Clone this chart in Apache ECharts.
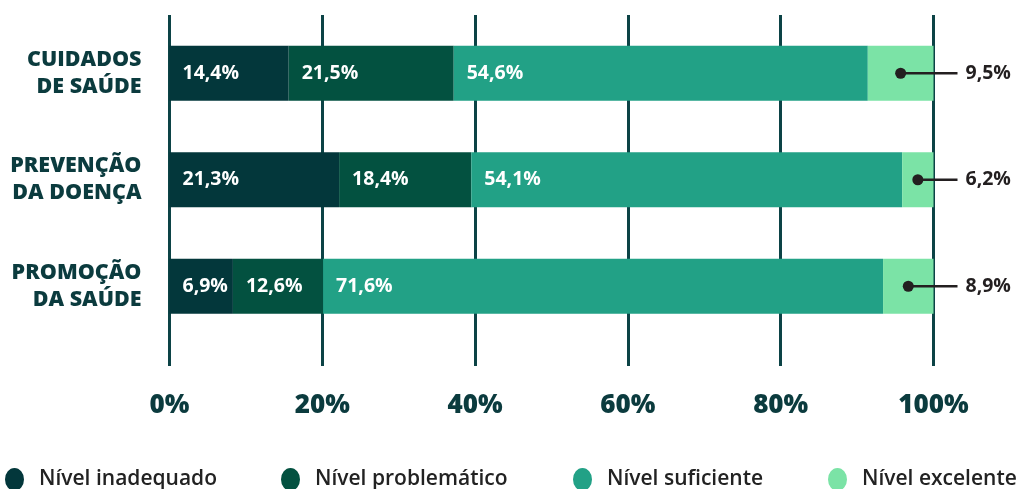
<!DOCTYPE html>
<html>
<head>
<meta charset="utf-8">
<script src="https://cdn.jsdelivr.net/npm/echarts@6/dist/echarts.min.js"></script>
<style>
  html, body { margin: 0; padding: 0; background: #fff; }
  #main { width: 1021px; height: 489px; }
</style>
</head>
<body>
<div id="main"></div>
<script>
// categories, top to bottom
const categories = ['CUIDADOS\nDE SAÚDE', 'PREVENÇÃO\nDA DOENÇA', 'PROMOÇÃO\nDA SAÚDE']
const seriesNames = ['Nível inadequado', 'Nível problemático', 'Nível suficiente', 'Nível excelente']

// bar lengths as drawn in the picture (% of the 0-100 axis)
const inadequado = [15.6, 22.2, 8.3]
const problematico = [21.6, 17.3, 11.8]
const suficiente = [54.2, 56.4, 73.3]
const excelente = [8.6, 4.1, 6.6]

// printed labels
const inadequadoTxt = ['14,4%', '21,3%', '6,9%']
const problematicoTxt = ['21,5%', '18,4%', '12,6%']
const suficienteTxt = ['54,6%', '54,1%', '71,6%']
const excelenteTxt = ['9,5%', '6,2%', '8,9%']

const xTicks = [0, 20, 40, 60, 80, 100]

const colors = ['#03373b', '#035140', '#22a186', '#7be3a6']
const lineColor = '#0c4346'
const textDark = '#0b3b3e'

var chart = echarts.init(document.getElementById('main'))

function barSeries(name, data, txt, color) {
    return {
        name: name,
        type: 'bar',
        stack: 'all',
        xAxisIndex: 0,
        yAxisIndex: 0,
        barWidth: 55,
        data: data,
        itemStyle: { color: color },
        label: {
            show: txt != null,
            position: 'insideLeft',
            distance: 13,
            color: '#fff',
            fontFamily: 'Open Sans',
            fontWeight: 'bold',
            fontSize: 19.5,
            formatter: p => txt ? txt[p.dataIndex] : ''
        },
        emphasis: { disabled: true },
        z: 3
    }
}

// dot + leader line for the "excelente" share
const calloutData = categories.map((c, i) => [
    inadequado[i] + problematico[i] + suficiente[i] + excelente[i] / 2, i, excelenteTxt[i]
])

function legendOne(i, left) {
    return {
        data: [seriesNames[i]],
        left: left,
        top: 463,
        icon: 'path://M10,0 A10,12 0 1,1 10,24 A10,12 0 1,1 10,0 Z',
        itemWidth: 19,
        itemHeight: 23,
        selectedMode: false,
        formatter: '{t|{name}}',
        textStyle: {
            rich: {
                t: {
                    padding: [0, 0, 0, 10],
                    fontFamily: 'Open Sans',
                    fontWeight: 600,
                    fontSize: 21,
                    color: '#222'
                }
            }
        }
    }
}

const option = {
    animation: false,
    color: colors,
    legend: [legendOne(0, 0), legendOne(1, 276), legendOne(2, 568), legendOne(3, 823)],
    grid: [
        { left: 169.5, right: 87.5, top: 20, height: 319.5 },
        { left: 169.5, right: 87.5, top: 15, bottom: 123 }
    ],
    xAxis: [
        { gridIndex: 0, type: 'value', min: 0, max: 100, show: false },
        {
            gridIndex: 1, type: 'value', min: 0, max: 100, interval: 20,
            axisLine: { show: false },
            axisTick: { show: false },
            splitLine: { show: true, lineStyle: { color: lineColor, width: 3 } },
            axisLabel: {
                margin: 27,
                color: textDark,
                fontFamily: 'Open Sans',
                fontWeight: 800,
                fontSize: 26,
                formatter: v => xTicks.indexOf(v) >= 0 ? v + '%' : ''
            }
        }
    ],
    yAxis: [
        {
            gridIndex: 0, type: 'category', inverse: true, data: categories,
            axisLine: { show: false },
            axisTick: { show: false },
            axisLabel: {
                margin: 28,
                color: textDark,
                fontFamily: 'Open Sans',
                fontWeight: 800,
                fontSize: 21.5,
                lineHeight: 27,
                align: 'right'
            }
        },
        { gridIndex: 1, type: 'value', show: false }
    ],
    series: [
        barSeries(seriesNames[0], inadequado, inadequadoTxt, colors[0]),
        barSeries(seriesNames[1], problematico, problematicoTxt, colors[1]),
        barSeries(seriesNames[2], suficiente, suficienteTxt, colors[2]),
        barSeries(seriesNames[3], excelente, null, colors[3]),
        {
            type: 'custom',
            xAxisIndex: 0,
            yAxisIndex: 0,
            data: calloutData,
            z: 5,
            renderItem: function (params, api) {
                const p = api.coord([api.value(0), api.value(1)])
                const endX = api.coord([100, api.value(1)])[0] + 24
                const txt = calloutData[params.dataIndex][2]
                return {
                    type: 'group',
                    children: [
                        {
                            type: 'line',
                            shape: { x1: p[0], y1: p[1], x2: endX, y2: p[1] },
                            style: { stroke: '#231f20', lineWidth: 2.5 }
                        },
                        {
                            type: 'circle',
                            shape: { cx: p[0], cy: p[1], r: 5.5 },
                            style: { fill: '#231f20' }
                        },
                        {
                            type: 'text',
                            x: endX + 8,
                            y: p[1],
                            style: {
                                text: txt,
                                fill: '#231f20',
                                font: 'bold 19.5px "Open Sans"',
                                verticalAlign: 'middle',
                                align: 'left'
                            }
                        }
                    ]
                }
            }
        }
    ]
}

option && chart.setOption(option)
</script>
</body>
</html>
